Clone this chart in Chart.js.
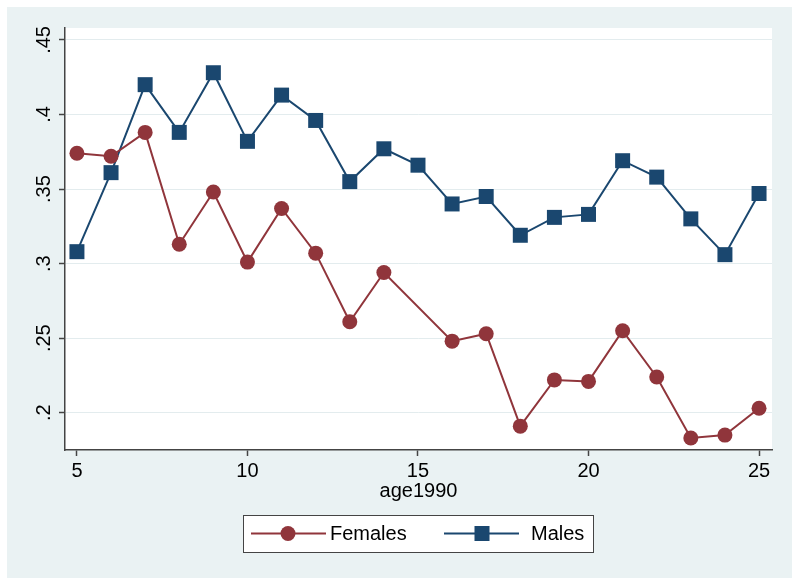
<!DOCTYPE html>
<html lang="en">
<head>
<meta charset="UTF-8">
<title>Females and Males by age1990</title>
<script src="https://cdn.jsdelivr.net/npm/chart.js"></script>
<style>
body { margin: 0; background: #ffffff; }
#wrap { width: 800px; height: 587px; }
</style>
</head>
<body>
<div id="wrap"><canvas id="ageChart" width="800" height="587"></canvas></div>
<script>
// values
const ages = [5, 6, 7, 8, 9, 10, 11, 12, 13, 14, 15, 16, 17, 18, 19, 20, 21, 22, 23, 24, 25];
const females = [0.374, 0.372, 0.388, 0.313, 0.348, 0.301, 0.337, 0.307, 0.261, 0.294, null,
                 0.248, 0.253, 0.191, 0.222, 0.221, 0.255, 0.224, 0.183, 0.185, 0.203];
const males = [0.308, 0.361, 0.420, 0.388, 0.428, 0.382, 0.413, 0.396, 0.355, 0.377, 0.366,
               0.340, 0.345, 0.319, 0.331, 0.333, 0.369, 0.358, 0.330, 0.306, 0.347];
const seriesNames = ['Females', 'Males'];
const xTicks = [5, 10, 15, 20, 25];
const yTicks = [0.2, 0.25, 0.3, 0.35, 0.4, 0.45];
const xTitle = 'age1990';

const maroon = '#90353b';
const navy = '#1a476f';
const panelBg = '#eaf2f3';
const axisColor = '#444444';
const fontFamily = '"Liberation Sans", Arial, sans-serif';
const fontSize = 20;

const toPoints = vals => ages.map((a, i) => ({ x: a, y: vals[i] }));

// backgrounds, rotated y labels and the boxed legend (Stata look)
const stataFrame = {
  id: 'stataFrame',
  beforeDraw(chart) {
    const ctx = chart.ctx;
    const area = chart.chartArea;
    ctx.save();
    ctx.fillStyle = '#ffffff';
    ctx.fillRect(0, 0, chart.width, chart.height);
    ctx.fillStyle = panelBg;
    ctx.fillRect(7, 7, 785, 571);
    ctx.fillStyle = '#ffffff';
    ctx.fillRect(area.left, area.top, area.right - area.left, area.bottom - area.top);
    ctx.restore();
  },
  afterDraw(chart) {
    const ctx = chart.ctx;
    const y = chart.scales.y;
    ctx.save();
    ctx.fillStyle = '#000000';
    ctx.font = fontSize + 'px ' + fontFamily;
    ctx.textAlign = 'center';
    ctx.textBaseline = 'middle';
    y.ticks.forEach(t => {
      const py = y.getPixelForValue(t.value);
      ctx.save();
      ctx.translate(44, py);
      ctx.rotate(-Math.PI / 2);
      ctx.fillText(String(t.value).replace(/^0/, ''), 0, 0);
      ctx.restore();
    });

    // legend
    const bx = 243, by = 515, bw = 350, bh = 37;
    ctx.fillStyle = '#ffffff';
    ctx.fillRect(bx, by, bw, bh);
    ctx.strokeStyle = axisColor;
    ctx.lineWidth = 1;
    ctx.strokeRect(bx + 0.5, by + 0.5, bw, bh);
    const cy = by + 18.5;
    const items = [
      { x0: 251, x1: 326, mx: 288, tx: 330, color: maroon, shape: 'circle' },
      { x0: 444, x1: 519, mx: 482, tx: 531, color: navy, shape: 'square' }
    ];
    ctx.textAlign = 'left';
    items.forEach((it, i) => {
      ctx.strokeStyle = it.color;
      ctx.lineWidth = 2;
      ctx.beginPath();
      ctx.moveTo(it.x0, cy);
      ctx.lineTo(it.x1, cy);
      ctx.stroke();
      ctx.fillStyle = it.color;
      if (it.shape === 'circle') {
        ctx.beginPath();
        ctx.arc(it.mx, cy, 7.5, 0, Math.PI * 2);
        ctx.fill();
      } else {
        ctx.fillRect(it.mx - 7.5, cy - 7.5, 15, 15);
      }
      ctx.fillStyle = '#000000';
      ctx.fillText(seriesNames[i], it.tx, cy + 1);
    });
    ctx.restore();
  }
};

const ctx = document.getElementById('ageChart').getContext('2d');
new Chart(ctx, {
  type: 'line',
  data: {
    datasets: [
      {
        label: seriesNames[0],
        data: toPoints(females),
        borderColor: maroon,
        backgroundColor: maroon,
        borderWidth: 2,
        pointStyle: 'circle',
        pointRadius: 7.5,
        pointBorderWidth: 0,
        spanGaps: true,
        tension: 0
      },
      {
        label: seriesNames[1],
        data: toPoints(males),
        borderColor: navy,
        backgroundColor: navy,
        borderWidth: 2,
        pointStyle: 'rect',
        pointRadius: 10.6,
        pointBorderWidth: 0,
        tension: 0
      }
    ]
  },
  options: {
    responsive: false,
    animation: false,
    devicePixelRatio: 1,
    layout: { padding: { left: 0, top: 28, right: 28, bottom: 82 } },
    plugins: {
      legend: { display: false },
      tooltip: { enabled: false }
    },
    scales: {
      x: {
        type: 'linear',
        min: 4.65,
        max: 25.38,
        afterBuildTicks: s => { s.ticks = xTicks.map(v => ({ value: v })); },
        afterFit: s => { s.height = 55; },
        grid: { drawOnChartArea: false, drawTicks: true, tickLength: 6, tickColor: axisColor, tickWidth: 1.5 },
        border: { display: true, color: axisColor, width: 1.5 },
        ticks: { color: '#000000', padding: 3, maxRotation: 0, font: { family: fontFamily, size: fontSize } },
        title: { display: true, text: xTitle, color: '#000000', padding: { top: 0, bottom: 2 }, font: { family: fontFamily, size: fontSize } }
      },
      y: {
        type: 'linear',
        min: 0.175,
        max: 0.458,
        afterBuildTicks: s => { s.ticks = yTicks.map(v => ({ value: v })); },
        afterFit: s => { s.width = 65; },
        grid: { color: '#e3ecee', lineWidth: 1, drawTicks: true, tickLength: 6, tickColor: axisColor, tickWidth: 1.5 },
        border: { display: true, color: axisColor, width: 1.5 },
        ticks: { display: false }
      }
    }
  },
  plugins: [stataFrame]
});
</script>
</body>
</html>
